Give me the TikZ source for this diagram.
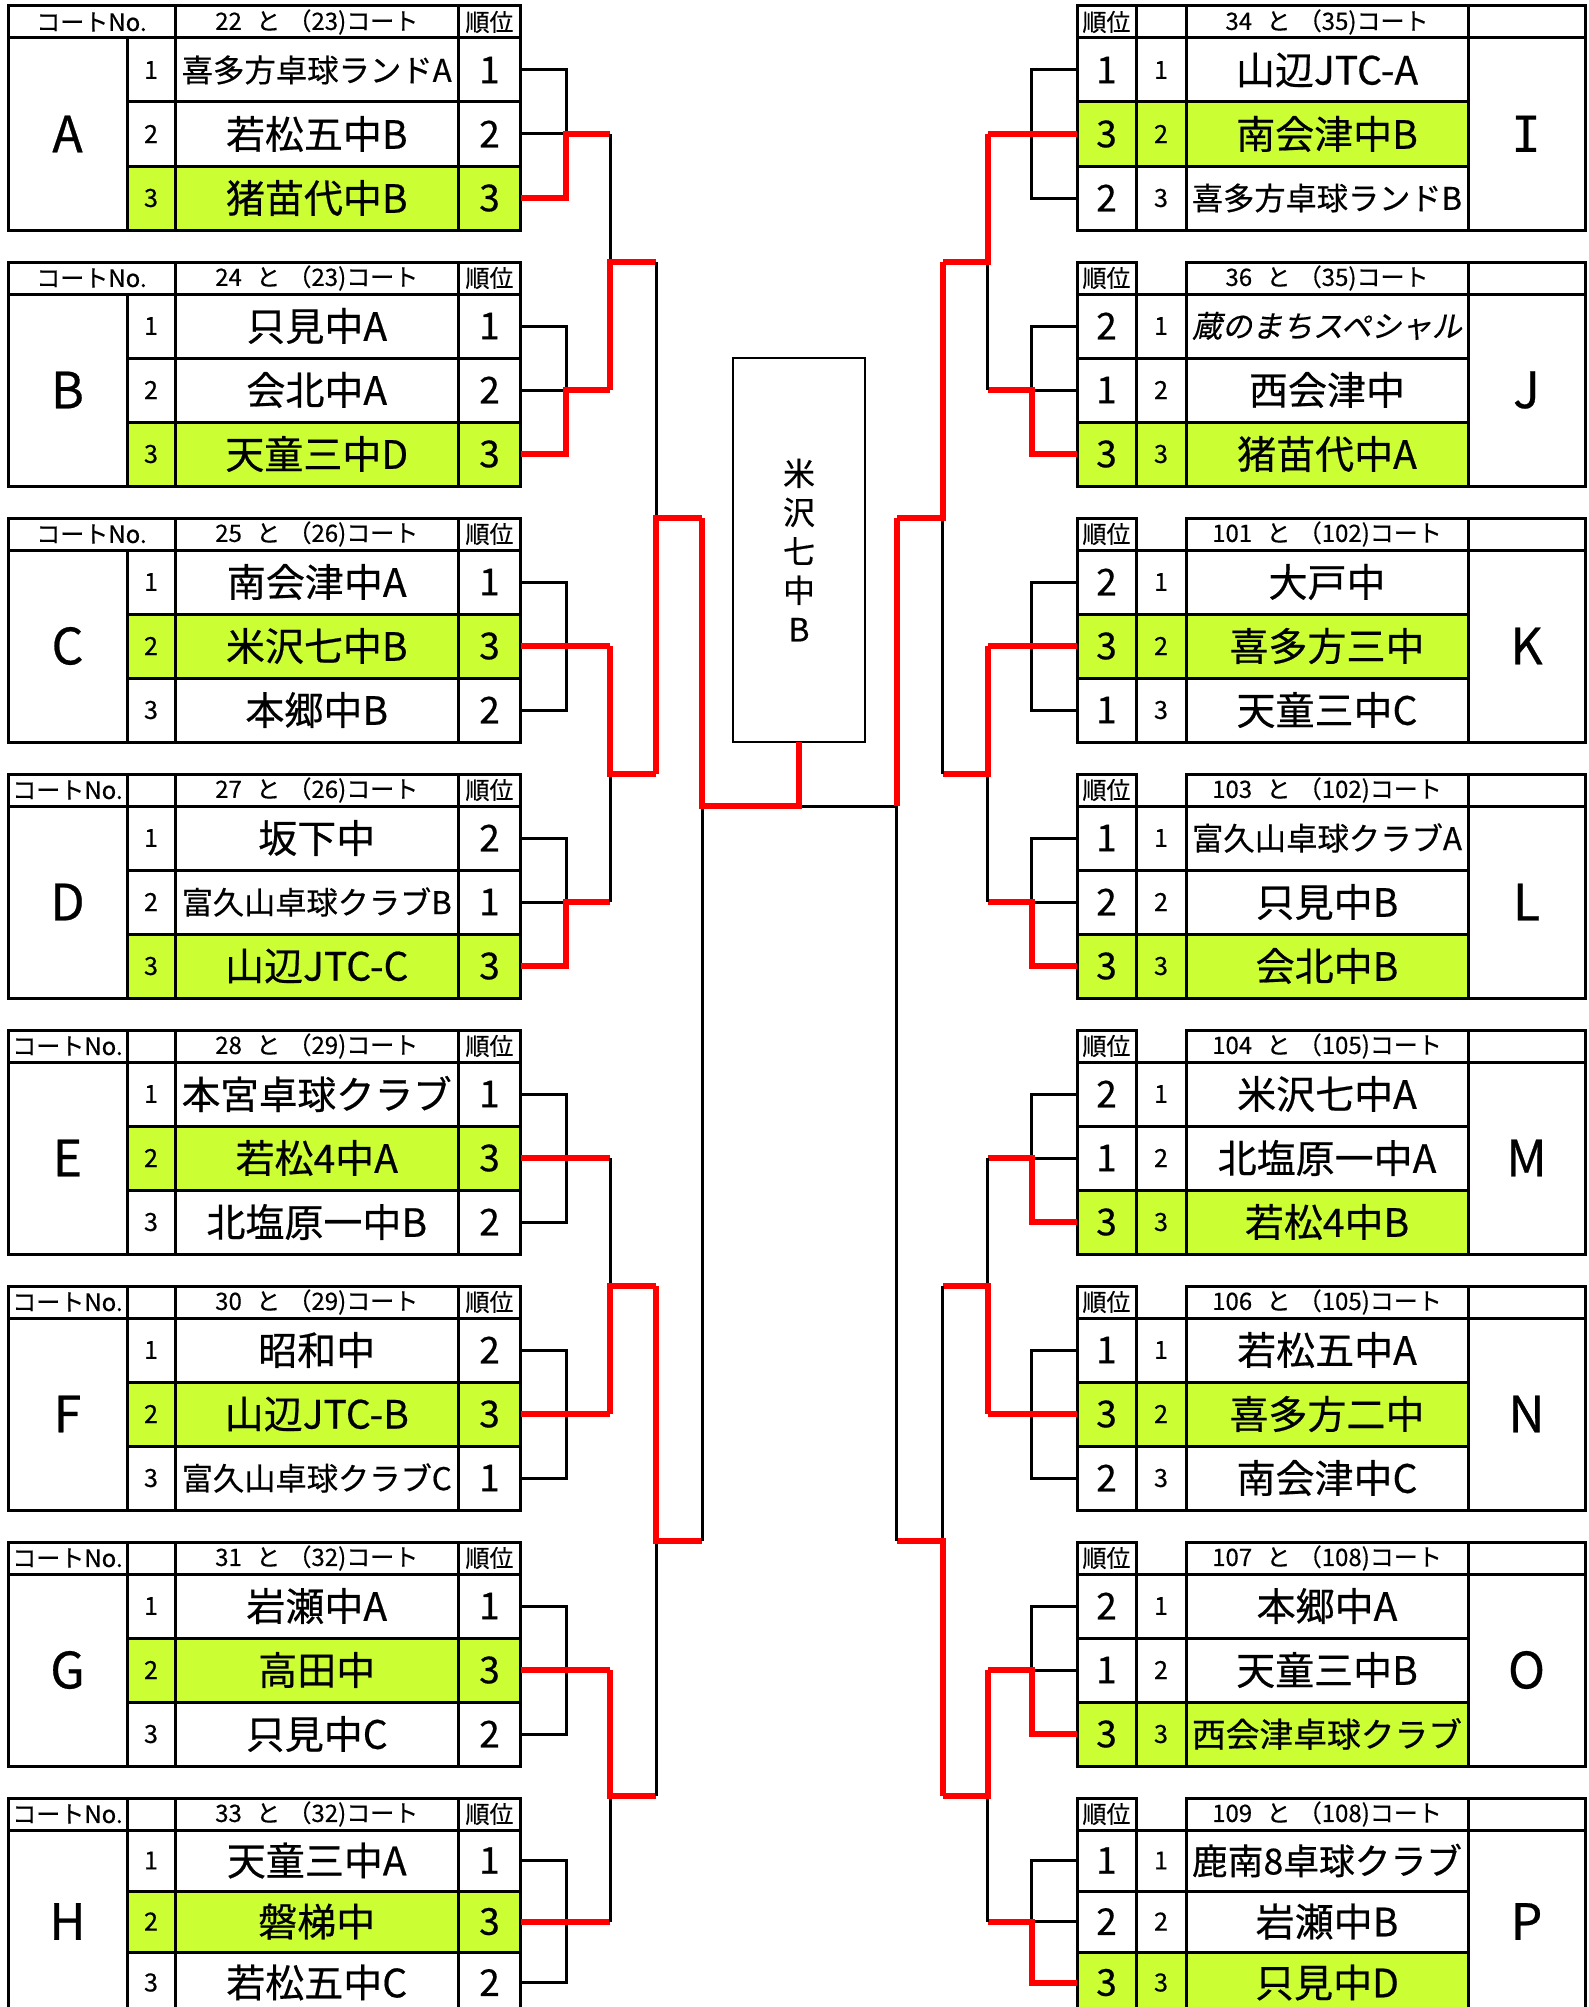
\documentclass[tikz,border=0pt]{standalone}
\usepackage{fontspec}
\usepackage{graphicx}
\setmainfont{Noto Sans CJK JP}[FakeBold=0.5]
\newfontfamily\slantfont[FakeSlant=0.2,FakeBold=0.5]{Noto Sans CJK JP}
\newfontfamily\serifI{DejaVu Sans Mono}
\usetikzlibrary{positioning,calc}
\definecolor{winfill}{RGB}{204,255,51}
\definecolor{winred}{RGB}{255,0,0}

\newsavebox\namebox
\newcommand\fitname[1]{\sbox\namebox{#1}%
  \ifdim\wd\namebox>270pt\resizebox{270pt}{!}{\usebox\namebox}\else\usebox\namebox\fi}

\begin{document}
\begin{tikzpicture}[x=1pt, y=-1pt,
		every node/.style={inner sep=0pt, outer sep=0pt},
		cell/.style={draw=black, line width=3pt, anchor=north west, minimum height=64pt},
		hcell/.style={cell, minimum height=32pt, font=\fontsize{24}{26}\selectfont},
		team/.style={cell, font=\fontsize{39}{44}\selectfont},
		seed/.style={cell, font=\fontsize{25}{28}\selectfont},
		place/.style={cell, font=\fontsize{37}{40}\selectfont},
		grp/.style={cell, font=\fontsize{50}{55}\selectfont},
		bk/.style={line width=3pt},
		win/.style={line width=6pt, draw=winred}
	]
	\useasboundingbox (0,0) rectangle (1589,2007);

	% Left tables
	\foreach \k/\T/\ca/\cb/\na/\ra/\nb/\rb/\nc/\rc/\w in {
		0/A/22/23/喜多方卓球ランドA/1/若松五中B/2/猪苗代中B/3/3,
		1/B/24/23/只見中A/1/会北中A/2/天童三中D/3/3,
		2/C/25/26/南会津中A/1/米沢七中B/3/本郷中B/2/2,
		3/D/27/26/坂下中/2/富久山卓球クラブB/1/山辺JTC-C/3/3,
		4/E/28/29/本宮卓球クラブ/1/若松4中A/3/北塩原一中B/2/2,
		5/F/30/29/昭和中/2/山辺JTC-B/3/富久山卓球クラブC/1/2,
		6/G/31/32/岩瀬中A/1/高田中/3/只見中C/2/2,
		7/H/33/32/天童三中A/1/磐梯中/3/若松五中C/2/2}{
		\pgfmathsetmacro\ty{6+256*\k}
		\pgfmathsetmacro\rh{\k==7 ? 61 : 64}
		\ifnum\k<3
			\node[hcell, minimum width=167pt] (\T-no) at (8,\ty) {コートNo.};
		\else
			\node[hcell, minimum width=119pt] (\T-no) at (8,\ty) {コートNo.};
			\node[hcell, minimum width=48pt] (\T-sp) at (127,\ty) {};
		\fi
		\node[hcell, minimum width=283.5pt] (\T-ct) at (175,\ty) {\ca\hspace{0.6em}と\hspace{0.3em}（\cb)コート};
		\node[hcell, minimum width=62pt] (\T-pl) at (458.5,\ty) {順位};
		\node[grp, minimum width=119pt, minimum height=3*\rh pt] (\T-g) at (8,\ty+32) {\T};
		\foreach \i/\nm/\rk in {1/\na/\ra,2/\nb/\rb,3/\nc/\rc}{
			\pgfmathsetmacro\ry{\ty+32+\rh*(\i-1)}
			\ifnum\i=\w\relax\def\bg{winfill}\else\def\bg{white}\fi
			\node[seed, fill=\bg, minimum width=48pt, minimum height=\rh pt] (\T-s\i) at (127,\ry) {\i};
			\node[team, fill=\bg, minimum width=283.5pt, minimum height=\rh pt] (\T-t\i) at (175,\ry) {\fitname{\nm}};
			\node[place, fill=\bg, minimum width=62pt, minimum height=\rh pt] (\T-r\i) at (458.5,\ry) {\rk};
		}
		\coordinate (\T-j) at ($(\T-r2.east)+(45.5,0)$);
		\coordinate (\T-o) at ($(\T-r2.east)+(89.5,0)$);
	}

	% Right tables
	\foreach \k/\T/\ca/\cb/\na/\ra/\nb/\rb/\nc/\rc/\w in {
		0/I/34/35/山辺JTC-A/1/南会津中B/3/喜多方卓球ランドB/2/2,
		1/J/36/35/{\slantfont 蔵のまちスペシャル}/2/西会津中/1/猪苗代中A/3/3,
		2/K/101/102/大戸中/2/喜多方三中/3/天童三中C/1/2,
		3/L/103/102/富久山卓球クラブA/1/只見中B/2/会北中B/3/3,
		4/M/104/105/米沢七中A/2/北塩原一中A/1/若松4中B/3/3,
		5/N/106/105/若松五中A/1/喜多方二中/3/南会津中C/2/2,
		6/O/107/108/本郷中A/2/天童三中B/1/西会津卓球クラブ/3/3,
		7/P/109/108/鹿南8卓球クラブ/1/岩瀬中B/2/只見中D/3/3}{
		\pgfmathsetmacro\ty{6+256*\k}
		\pgfmathsetmacro\rh{\k==7 ? 61 : 64}
		\node[hcell, minimum width=59pt] (\T-pl) at (1077,\ty) {順位};
		\ifnum\k=0
			\node[hcell, minimum width=50pt] (\T-sp) at (1136,\ty) {};
		\fi
		\node[hcell, minimum width=282pt] (\T-ct) at (1186,\ty) {\ca\hspace{0.6em}と\hspace{0.3em}（\cb)コート};
		\node[hcell, minimum width=117pt] (\T-gh) at (1468,\ty) {};
		\node[grp, minimum width=117pt, minimum height=3*\rh pt] (\T-g) at (1468,\ty+32) {\ifnum\k=0 {\serifI I}\else\T\fi};
		\foreach \i/\nm/\rk in {1/\na/\ra,2/\nb/\rb,3/\nc/\rc}{
			\pgfmathsetmacro\ry{\ty+32+\rh*(\i-1)}
			\ifnum\i=\w\relax\def\bg{winfill}\else\def\bg{white}\fi
			\node[place, fill=\bg, minimum width=59pt, minimum height=\rh pt] (\T-r\i) at (1077,\ry) {\rk};
			\node[seed, fill=\bg, minimum width=50pt, minimum height=\rh pt] (\T-s\i) at (1136,\ry) {\i};
			\node[team, fill=\bg, minimum width=282pt, minimum height=\rh pt] (\T-t\i) at (1186,\ry) {\fitname{\nm}};
		}
		\coordinate (\T-j) at ($(\T-r2.west)+(-45.5,0)$);
		\coordinate (\T-o) at ($(\T-r2.west)+(-89.5,0)$);
	}

	% Winner box
	\node[draw, line width=2.5pt, anchor=north west, minimum width=132pt, minimum height=384pt,
		align=center, font=\fontsize{32}{39}\selectfont] (champ) at (733,358) {米\\沢\\七\\中\\B};
	\coordinate (fin) at ($(champ.south)+(0,64)$);

	% Brackets
	\foreach \T/\w in {A/3,B/3,C/2,D/3,E/2,F/2,G/2,H/2}{
		\draw[bk] (\T-r1.east) -| (\T-j) |- (\T-r3.east);
		\draw[bk] (\T-r2.east) -- (\T-o);
		\draw[win] (\T-r\w.east) -| (\T-j) -- (\T-o);
	}
	\foreach \T/\w in {I/2,J/3,K/2,L/3,M/3,N/2,O/3,P/3}{
		\draw[bk] (\T-r1.west) -| (\T-j) |- (\T-r3.west);
		\draw[bk] (\T-r2.west) -- (\T-o);
		\draw[win] (\T-r\w.west) -| (\T-j) -- (\T-o);
	}
	\foreach \P/\a/\b/\wn/\dx in {AB/A/B/B/46, CD/C/D/C/46, EF/E/F/F/46, GH/G/H/G/46,
		IJ/I/J/I/-45, KL/K/L/K/-45, MN/M/N/N/-45, OP/O/P/O/-45,
		ABCD/AB/CD/CD/46, EFGH/EF/GH/EF/46, IJKL/IJ/KL/IJ/-46, MNOP/MN/OP/OP/-46}{
		\coordinate (\P) at ($(\a-o)!.5!(\b-o)$);
		\coordinate (\P-o) at ($(\P)+(\dx,0)$);
		\draw[bk] (\a-o) -- (\b-o) (\P) -- (\P-o);
		\draw[win] (\wn-o) -- (\P) -- (\P-o);
	}
	\draw[bk] (ABCD-o) -- (EFGH-o);
	\draw[bk] (IJKL-o) -- (MNOP-o);
	\draw[bk] (fin) -- (fin -| IJKL-o);
	\draw[win] (ABCD-o) |- (fin) -- (champ.south);
	\draw[win] (IJKL-o) -- (IJKL-o |- fin);

\end{tikzpicture}
\end{document}
